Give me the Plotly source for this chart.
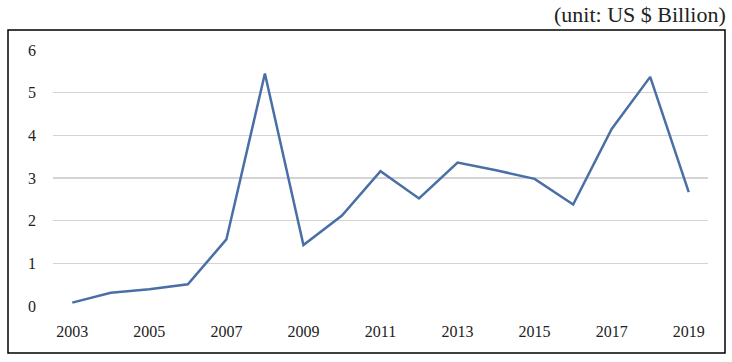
import plotly.graph_objects as go

years = list(range(2003, 2020))
values = [0.08, 0.31, 0.39, 0.51, 1.56, 5.45, 1.43, 2.12, 3.16, 2.52, 3.36, 3.18, 2.98, 2.38, 4.15, 5.37, 2.67]
y_ticks = [0, 1, 2, 3, 4, 5, 6]
x_ticks = list(range(2003, 2020, 2))
unit_label = "(unit: US $ Billion)"

font = dict(family="Liberation Serif", size=16, color="#222222")

fig = go.Figure()
fig.add_trace(go.Scatter(x=years, y=values, mode="lines",
                         line=dict(color="#4a6ea6", width=2.5), hoverinfo="skip"))

fig.update_layout(
    width=732, height=362,
    margin=dict(l=53, r=24, t=50, b=56),
    paper_bgcolor="white", plot_bgcolor="white",
    showlegend=False, font=font,
    xaxis=dict(range=[2002.5, 2019.5], tickvals=x_ticks, ticktext=[str(v) for v in x_ticks],
               showgrid=False, zeroline=False, showline=False, ticks="",
               ticklabelstandoff=14, tickfont=font),
    yaxis=dict(range=[0, 6], tickvals=y_ticks, showgrid=True, gridcolor="#d4d4d4",
               gridwidth=1.2, zeroline=False, showline=False, ticks="",
               ticklabelstandoff=16, tickfont=font),
    shapes=[dict(type="rect", xref="paper", yref="paper",
                 x0=(8 - 53) / 655, x1=(725 - 53) / 655,
                 y0=-(353 - 306) / 256, y1=(306 - 30) / 256,
                 line=dict(color="black", width=1.5), fillcolor="rgba(0,0,0,0)", layer="below")],
    annotations=[dict(text=unit_label, xref="paper", yref="paper",
                      x=(728 - 53) / 655, y=(306 - 14) / 256, xanchor="right", yanchor="middle",
                      showarrow=False, font=dict(family="Liberation Serif", size=22, color="#222222"))],
)

fig.write_html("out.html", config={"displayModeBar": False, "staticPlot": True},
               post_script="document.body.style.margin='0';document.body.style.overflow='hidden';")
